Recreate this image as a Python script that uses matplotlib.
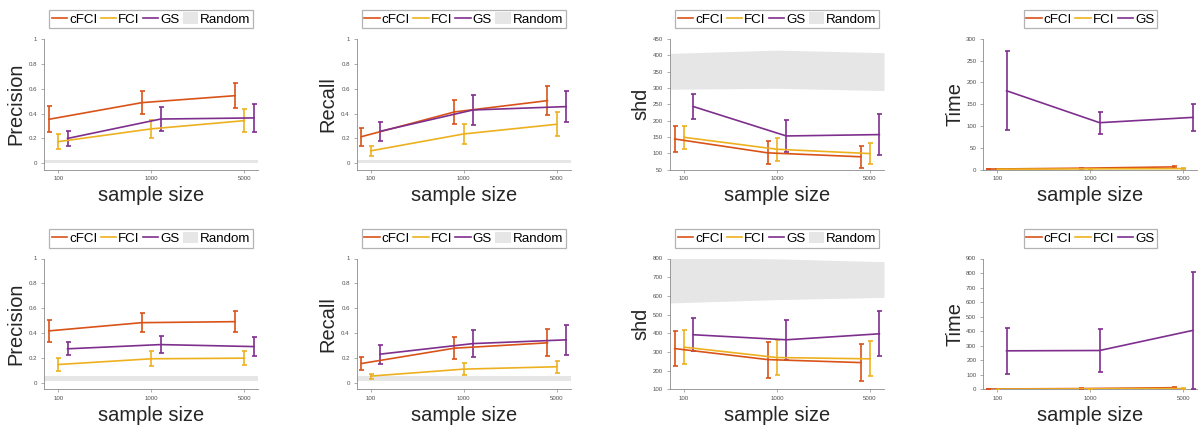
import numpy as np
import matplotlib
matplotlib.use('Agg')
import matplotlib.pyplot as plt

plt.rcParams['font.family'] = ['Liberation Sans', 'DejaVu Sans']

# x categories and methods
ticks = ['100', '1000', '5000']
methods = ['cFCI', 'FCI', 'GS']
colors = ['#D95319', '#EDB120', '#7E2F8E']
rand_color = '#E6E6E6'

# ---- first row ----
prec1 = [[0.354, 0.488, 0.544], [0.174, 0.277, 0.343], [0.200, 0.356, 0.365]]
prec1_err = [[0.105, 0.093, 0.100], [0.060, 0.071, 0.090], [0.060, 0.094, 0.115]]
prec1_rand = [[0.0, 0.0, 0.0], [0.03, 0.03, 0.03]]

recall1 = [[0.214, 0.413, 0.504], [0.100, 0.236, 0.314], [0.257, 0.429, 0.456]]
recall1_err = [[0.072, 0.096, 0.115], [0.040, 0.077, 0.097], [0.078, 0.120, 0.122]]
recall1_rand = [[0.0, 0.0, 0.0], [0.03, 0.03, 0.03]]

shd1 = [[143.6, 101.0, 89.0], [148.7, 112.0, 98.8], [243.0, 152.8, 157.0]]
shd1_err = [[39, 35, 33], [36, 36, 33], [37, 48, 64]]
shd1_rand = [[296, 299, 292], [406, 416, 408]]

time1 = [[1.0, 3.0, 6.0], [0.5, 1.5, 2.0], [181.0, 107.6, 119.8]]
time1_err = [[0.5, 1.0, 2.0], [0.3, 0.5, 0.8], [91, 25, 31]]

# ---- second row ----
prec2 = [[0.419, 0.485, 0.493], [0.149, 0.195, 0.200], [0.275, 0.309, 0.293]]
prec2_err = [[0.087, 0.077, 0.083], [0.053, 0.060, 0.055], [0.053, 0.070, 0.079]]
prec2_rand = [[0.015, 0.015, 0.015], [0.053, 0.053, 0.053]]

recall2 = [[0.157, 0.280, 0.323], [0.056, 0.112, 0.131], [0.232, 0.317, 0.347]]
recall2_err = [[0.052, 0.090, 0.109], [0.020, 0.047, 0.050], [0.076, 0.108, 0.121]]
recall2_rand = [[0.015, 0.015, 0.015], [0.053, 0.053, 0.053]]

shd2 = [[318, 259, 243], [325.6, 270, 263], [392, 365, 397]]
shd2_err = [[94, 96, 97.6], [91, 92, 94], [89.5, 106, 121]]
shd2_rand = [[562, 580, 592], [805, 798, 783]]

time2 = [[2.0, 5.0, 11.0], [1.0, 3.0, 5.0], [264.7, 267.0, 405.0]]
time2_err = [[1.0, 2.0, 3.0], [0.5, 1.0, 1.5], [157.7, 147.0, 403.0]]


def panel(ax, means, errs, rand, ylabel, ylim, yticks, yticklabels=None):
    xlim = (0.85, 3.15)
    base = np.arange(1, 4)
    handles, labels = [], []
    if rand is not None:
        xs = [xlim[0], 2, xlim[1]]
        h = ax.fill_between(xs, rand[0], rand[1], color=rand_color, lw=0, zorder=1)
    for i, m in enumerate(methods):
        x = base + (i - 1) * 0.1
        eb = ax.errorbar(x, means[i], yerr=errs[i], color=colors[i], lw=1.2,
                         capsize=1.8, capthick=1.2, zorder=3)
        handles.append(eb[0])
        labels.append(m)
    if rand is not None:
        handles.append(h)
        labels.append('Random')
    ax.set_xlim(*xlim)
    ax.set_ylim(*ylim)
    ax.set_xticks(base)
    ax.set_xticklabels(ticks)
    ax.set_yticks(yticks)
    if yticklabels is not None:
        ax.set_yticklabels(yticklabels)
    for s in ['top', 'right']:
        ax.spines[s].set_visible(False)
    for s in ['left', 'bottom']:
        ax.spines[s].set_color('#8a8a8a')
        ax.spines[s].set_linewidth(0.6)
    ax.tick_params(direction='out', length=2.5, width=0.5, colors='#8a8a8a',
                   labelsize=4.4, labelcolor='#505050', pad=2.5)
    ax.set_ylabel(ylabel, fontsize=14.4, color='#262626')
    ax.yaxis.set_label_coords(-0.09, 0.5)
    ax.set_xlabel('sample size', fontsize=14.4, color='#262626')
    ax.xaxis.set_label_coords(0.5, -0.13)
    leg = ax.legend(handles, labels,
                    loc='lower center', bbox_to_anchor=(0.5, 1.082), borderaxespad=0,
                    ncol=len(handles), fontsize=9.6, frameon=True, fancybox=False,
                    handlelength=1.15, handleheight=0.9, handletextpad=0.15,
                    columnspacing=0.25, borderpad=0.2)
    leg.get_frame().set_edgecolor('#a0a0a0')
    leg.get_frame().set_linewidth(0.9)


fig = plt.figure(figsize=(11.98, 4.29), dpi=100)

lefts = [44.3, 356.7, 670.0, 983.3]
width = 214.0
rows = [(39.0, 169.5), (258.5, 389.3)]

pticks = [0, 0.2, 0.4, 0.6, 0.8, 1]
plabels = ['0', '0.2', '0.4', '0.6', '0.8', '1']

row_data = [
    [(prec1, prec1_err, prec1_rand, 'Precision', (-0.05, 1), pticks, plabels),
     (recall1, recall1_err, recall1_rand, 'Recall', (-0.05, 1), pticks, plabels),
     (shd1, shd1_err, shd1_rand, 'shd', (50, 450), np.arange(50, 451, 50), None),
     (time1, time1_err, None, 'Time', (0, 300), np.arange(0, 301, 50), None)],
    [(prec2, prec2_err, prec2_rand, 'Precision', (-0.05, 1), pticks, plabels),
     (recall2, recall2_err, recall2_rand, 'Recall', (-0.05, 1), pticks, plabels),
     (shd2, shd2_err, shd2_rand, 'shd', (100, 800), np.arange(100, 801, 100), None),
     (time2, time2_err, None, 'Time', (0, 900), np.arange(0, 901, 100), None)],
]

W, H = 1198.0, 429.0
for r, (top, bot) in enumerate(rows):
    for c, left in enumerate(lefts):
        ax = fig.add_axes([left / W, 1 - bot / H, width / W, (bot - top) / H])
        panel(ax, *row_data[r][c])

fig.savefig('out.png', dpi=100)
